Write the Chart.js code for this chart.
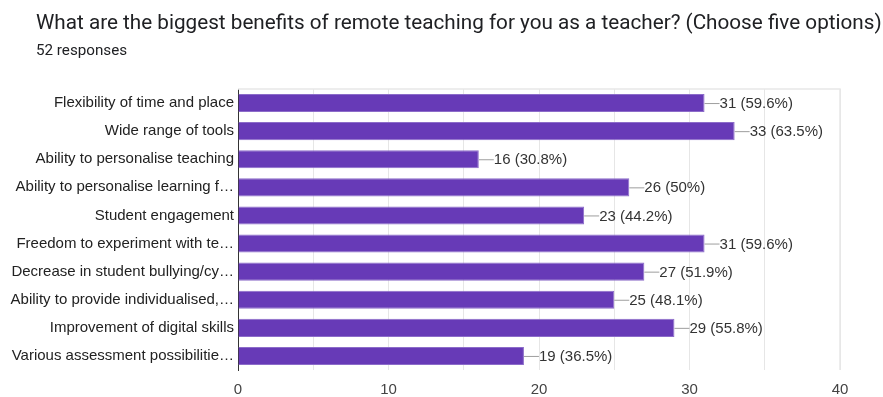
<!DOCTYPE html>
<html>
<head>
<meta charset="utf-8">
<script src="https://cdn.jsdelivr.net/npm/chart.js@4/dist/chart.umd.min.js"></script>
<style>
  html, body { margin: 0; padding: 0; background: #fff; }
  #wrap { position: relative; width: 883px; height: 397px; overflow: hidden; }
  #title { position: absolute; left: 36px; top: 10px; font: 20.7px Roboto, "Open Sans", sans-serif; color: #202124; white-space: nowrap; }
  #sub { position: absolute; left: 36px; top: 41px; font: 15.2px Roboto, sans-serif; color: #202124; }
  canvas { position: absolute; left: 0; top: 0; }
</style>
</head>
<body>
<div id="wrap">
  <canvas id="chart" width="883" height="397"></canvas>
  <div id="title">What are the biggest benefits of remote teaching for you as a teacher? (Choose five options)</div>
  <div id="sub">52 responses</div>
</div>
<script>
const categories = [
  'Flexibility of time and place',
  'Wide range of tools',
  'Ability to personalise teaching',
  'Ability to personalise learning f\u2026',
  'Student engagement',
  'Freedom to experiment with te\u2026',
  'Decrease in student bullying/cy\u2026',
  'Ability to provide individualised,\u2026',
  'Improvement of digital skills',
  'Various assessment possibilitie\u2026'
];
const counts = [31, 33, 16, 26, 23, 31, 27, 25, 29, 19];
const percents = ['59.6%', '63.5%', '30.8%', '50%', '44.2%', '59.6%', '51.9%', '48.1%', '55.8%', '36.5%'];
const xTicks = [0, 10, 20, 30, 40];

const labelFont = '"Liberation Sans", Arial, sans-serif';

// value labels with a short leader line after each bar
const barLabels = {
  id: 'barLabels',
  afterDatasetsDraw(chart) {
    const ctx = chart.ctx;
    const meta = chart.getDatasetMeta(0);
    ctx.save();
    ctx.font = '15px ' + labelFont;
    ctx.textBaseline = 'middle';
    meta.data.forEach((bar, i) => {
      const x = bar.x, y = bar.y;
      ctx.strokeStyle = '#9e9e9e';
      ctx.lineWidth = 1;
      ctx.beginPath();
      ctx.moveTo(x, y + 0.5);
      ctx.lineTo(x + 15, y + 0.5);
      ctx.stroke();
      ctx.fillStyle = '#333';
      ctx.fillText(counts[i] + ' (' + percents[i] + ')', x + 15, y + 1);
    });
    ctx.restore();
  }
};

// light frame round the plot area
const frame = {
  id: 'frame',
  beforeDatasetsDraw(chart) {
    const a = chart.chartArea;
    const ctx = chart.ctx;
    ctx.save();
    ctx.strokeStyle = '#e8e8e8';
    ctx.lineWidth = 1.5;
    ctx.beginPath();
    ctx.moveTo(a.left, a.top);
    ctx.lineTo(a.right, a.top);
    ctx.lineTo(a.right, a.bottom);
    ctx.stroke();
    ctx.restore();
  }
};

new Chart(document.getElementById('chart').getContext('2d'), {
  type: 'bar',
  data: {
    labels: categories,
    datasets: [{
      data: counts,
      backgroundColor: '#673ab7',
      borderColor: '#8c6cc9',
      borderWidth: 1,
      borderSkipped: 'left',
      categoryPercentage: 1,
      barPercentage: 0.645
    }]
  },
  options: {
    indexAxis: 'y',
    responsive: false,
    animation: false,
    layout: { padding: { top: 89, right: 43, left: 0, bottom: 0 } },
    plugins: { legend: { display: false }, tooltip: { enabled: false } },
    scales: {
      x: {
        min: 0,
        max: 40,
        afterFit(scale) { scale.height = 27; },
        ticks: {
          stepSize: 5,
          padding: 11,
          color: '#444',
          font: { family: labelFont, size: 15 },
          callback: v => xTicks.includes(v) ? String(v) : ''
        },
        grid: { color: '#e6e6e6', drawTicks: false },
        border: { display: false }
      },
      y: {
        afterFit(scale) { scale.width = 238; },
        ticks: {
          padding: 4,
          color: '#222',
          font: { family: labelFont, size: 15 }
        },
        grid: { display: false, drawTicks: false },
        border: { display: true, color: '#333', width: 1 }
      }
    }
  },
  plugins: [frame, barLabels]
});
</script>
</body>
</html>
